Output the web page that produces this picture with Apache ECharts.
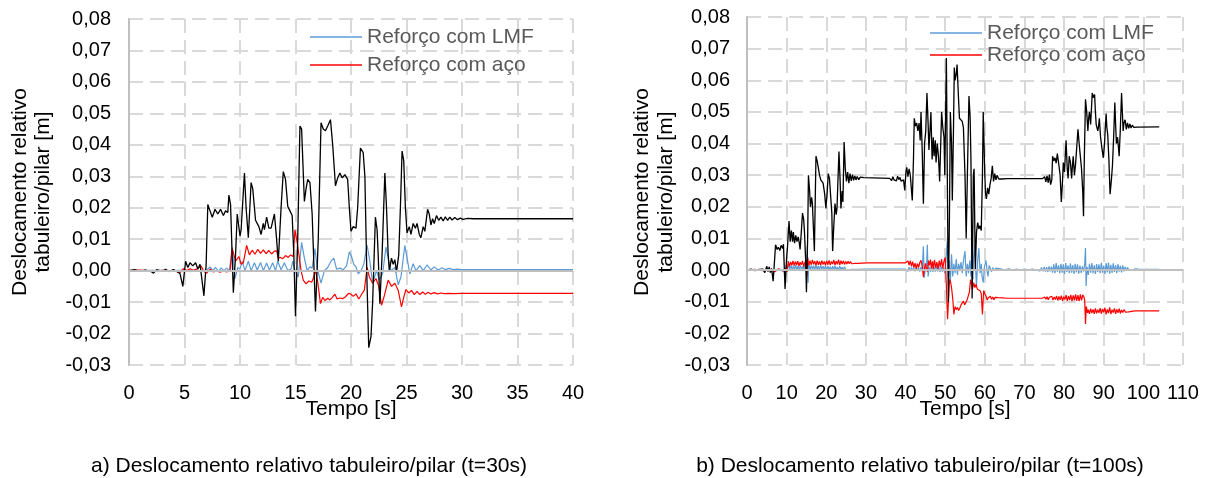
<!DOCTYPE html>
<html>
<head>
<meta charset="utf-8">
<script src="https://cdn.jsdelivr.net/npm/echarts@6/dist/echarts.min.js"></script>
<style>
  html, body { margin: 0; padding: 0; background: #ffffff; }
  #chart { width: 1210px; height: 478px; }
</style>
</head>
<body>
<div id="chart"></div>
<script>
// Relative deck/pier displacement [m] versus time [s]; pairs are [t, value].

// (a) t = 30 s record
const aSemReforco = [[0,0],[0.5,0.0003],[1,-0.0002],[1.5,0.0002],[2,-0.0003],[2.2,-0.0008],[2.5,0.0003],[3,-0.0002],[3.3,0.0004],[3.6,-0.0003],[4,0.0003],[4.3,-0.0002],[4.6,-0.001],[4.85,-0.005],[5.1,0.003],[5.3,0.001],[5.5,0.0025],[5.75,0.0015],[6.0,0.0025],[6.2,0.0005],[6.4,0.002],[6.55,0.0015],[6.75,-0.008],[6.95,0.002],[7.1,0.021],[7.3,0.019],[7.5,0.017],[7.75,0.0195],[8.0,0.018],[8.25,0.0195],[8.5,0.0175],[8.7,0.019],[8.9,0.0185],[9.0,0.024],[9.15,0.021],[9.4,-0.007],[9.6,0.005],[9.75,0.018],[10.0,0.011],[10.1,0.013],[10.4,0.031],[10.55,0.02],[10.75,0.0105],[11.0,0.028],[11.15,0.026],[11.4,0.016],[11.55,0.0165],[11.7,0.014],[11.9,0.0115],[12.1,0.015],[12.2,0.013],[12.4,0.017],[12.6,0.0135],[12.8,0.0135],[13.1,0.018],[13.25,0.012],[13.45,0.003],[13.7,0.02],[13.9,0.0315],[14.1,0.029],[14.3,0.0205],[14.5,0.019],[14.7,0.0175],[14.85,0.005],[15.0,-0.0145],[15.2,0.01],[15.4,0.046],[15.55,0.045],[15.8,0.022],[15.95,0.026],[16.1,0.029],[16.3,0.028],[16.5,0.018],[16.8,-0.013],[17.05,0.01],[17.3,0.047],[17.5,0.045],[17.7,0.0445],[17.9,0.046],[18.15,0.048],[18.35,0.04],[18.6,0.027],[18.8,0.0295],[19.0,0.031],[19.2,0.0295],[19.45,0.0305],[19.7,0.029],[19.85,0.02],[20.0,0.0125],[20.2,0.014],[20.45,0.0135],[20.6,0.02],[20.85,0.039],[21.1,0.0375],[21.25,0.03],[21.45,-0.005],[21.6,-0.0245],[21.8,-0.021],[21.95,-0.01],[22.2,0.017],[22.35,0.013],[22.45,0.005],[22.6,-0.0105],[22.8,0.005],[23.05,0.031],[23.2,0.02],[23.35,0.005],[23.45,0.0],[23.65,0.004],[23.8,0.002],[23.95,0.0035],[24.1,-0.0005],[24.3,0.005],[24.45,0.02],[24.6,0.038],[24.75,0.035],[24.9,0.02],[25.05,0.012],[25.25,0.014],[25.4,0.0115],[25.6,0.015],[25.8,0.0135],[25.95,0.015],[26.15,0.0115],[26.3,0.0105],[26.5,0.014],[26.65,0.0125],[26.9,0.0195],[27.05,0.018],[27.2,0.0145],[27.35,0.0165],[27.5,0.015],[27.7,0.0175],[27.9,0.016],[28.1,0.017],[28.3,0.0158],[28.5,0.0171],[28.7,0.016],[28.9,0.017],[29.1,0.0161],[29.35,0.0169],[29.6,0.0162],[29.85,0.0167],[30.1,0.0163],[30.5,0.0166],[31,0.0165],[40,0.0165]];

const aAco = [[0,0],[1,0.0002],[2,-0.0002],[3,0.0001],[4,-0.0001],[4.6,-0.0006],[4.9,0.0006],[5.2,0.0],[5.5,0.0006],[5.8,0.0001],[6.1,0.0005],[6.5,0.0015],[6.75,-0.0003],[7.0,-0.0008],[7.3,0.0005],[7.6,-0.0004],[7.9,-0.0001],[8.2,-0.0005],[8.5,0.0],[8.8,-0.0004],[9.1,0.0],[9.3,0.007],[9.6,0.003],[9.9,0.0045],[10.1,0.002],[10.3,0.0025],[10.6,0.008],[10.85,0.005],[11.1,0.0065],[11.35,0.0052],[11.6,0.0068],[11.85,0.0055],[12.1,0.0066],[12.35,0.0054],[12.6,0.0064],[12.85,0.0053],[13.1,0.0062],[13.3,0.0063],[13.45,0.004],[13.65,0.0042],[13.85,0.0038],[14.1,0.0048],[14.35,0.0042],[14.55,0.005],[14.8,0.0045],[14.95,0.013],[15.15,0.009],[15.35,0.004],[15.5,0.0],[15.7,-0.003],[15.95,-0.0042],[16.2,-0.0033],[16.45,-0.0037],[16.6,-0.0025],[16.8,0.0],[17.0,-0.0035],[17.25,-0.0105],[17.45,-0.0085],[17.65,-0.0095],[17.9,-0.0088],[18.1,-0.0093],[18.3,-0.0086],[18.55,-0.0075],[18.75,-0.009],[19.0,-0.0087],[19.25,-0.0089],[19.5,-0.0083],[19.8,-0.0072],[20.0,-0.0075],[20.2,-0.0082],[20.45,-0.0074],[20.7,-0.009],[20.95,-0.0076],[21.2,-0.0062],[21.45,0.001],[21.65,-0.002],[21.95,-0.004],[22.25,-0.0025],[22.5,-0.005],[22.75,-0.011],[23.0,-0.008],[23.35,-0.003],[23.65,-0.005],[23.95,-0.004],[24.25,-0.0062],[24.55,-0.0115],[24.75,-0.0085],[24.95,-0.006],[25.2,-0.0071],[25.45,-0.0063],[25.7,-0.0076],[25.95,-0.0066],[26.2,-0.0076],[26.45,-0.0068],[26.7,-0.0075],[26.95,-0.0069],[27.2,-0.0074],[27.5,-0.007],[27.8,-0.0074],[28.1,-0.0071],[28.4,-0.0073],[28.8,-0.0072],[29.3,-0.0073],[30,-0.0072],[40,-0.0072]];

const aLmf = [[0,0],[2,0.0001],[4,0],[5,0.0002],[5.5,-0.0003],[6,0.0004],[6.5,-0.0002],[7.0,0.0002],[7.3,0.0012],[7.55,0.0],[7.8,0.001],[8.05,-0.0002],[8.3,0.0009],[8.55,0.0],[8.8,0.0008],[9.05,0.0],[9.3,0.0075],[9.55,-0.0025],[9.8,0.001],[10.0,0.0005],[10.2,0.003],[10.45,0.0],[10.75,0.003],[11.0,0.0],[11.3,0.0025],[11.55,0.0002],[11.85,0.0026],[12.1,0.0],[12.4,0.0024],[12.65,0.0002],[12.95,0.0025],[13.2,0.0],[13.4,0.003],[13.7,0.0003],[14.0,0.0025],[14.3,0.0],[14.6,0.0005],[14.75,0.003],[14.95,0.0],[15.25,-0.002],[15.55,0.009],[15.8,0.004],[16.05,0.0],[16.3,0.0012],[16.5,0.0008],[16.75,0.007],[17.0,0.0],[17.3,-0.004],[17.6,0.0],[17.9,0.001],[18.2,0.003],[18.45,0.004],[18.7,0.0005],[19.0,0.0008],[19.3,0.0003],[19.6,0.0015],[19.85,0.006],[20.05,0.0045],[20.25,0.002],[20.45,0.0012],[20.65,-0.001],[20.9,0.0],[21.15,0.002],[21.45,0.008],[21.7,0.003],[21.95,-0.004],[22.3,0.0],[22.55,-0.003],[22.85,-0.001],[23.15,0.0075],[23.35,0.004],[23.6,0.0],[23.95,0.001],[24.25,-0.0045],[24.5,-0.002],[24.85,0.008],[25.05,0.004],[25.3,-0.001],[25.6,0.0022],[25.85,0.0],[26.2,0.0016],[26.5,0.0],[26.85,0.0018],[27.2,0.0002],[27.5,0.0012],[27.85,0.0002],[28.2,0.0009],[28.5,0.0003],[28.85,0.0007],[29.2,0.0003],[29.6,0.0005],[30,0.0003],[40,0.0003]];

// (b) t = 100 s record
const bSemReforco = [[0,0],[1,0.0003],[2,-0.0002],[3,0.0002],[3.5,-0.0004],[4,0.0003],[4.5,-0.0008],[5,0.0012],[5.3,-0.0005],[5.6,0.001],[5.9,-0.0008],[6.2,0.0005],[6.6,-0.0035],[7.0,0.004],[7.2,0.008],[7.6,0.0065],[7.9,0.0072],[8.3,0.0062],[8.6,0.0078],[9.0,0.0068],[9.2,0.0082],[9.6,-0.006],[10.0,0.004],[10.2,0.007],[10.6,0.0155],[10.9,0.009],[11.2,0.0125],[11.5,0.009],[11.7,0.012],[12.0,0.0085],[12.3,0.011],[12.6,0.009],[12.9,0.0105],[13.2,0.0085],[13.4,0.0065],[13.7,0.012],[14.0,0.018],[14.3,0.016],[14.5,0.012],[14.8,0.003],[15.0,-0.007],[15.3,0.01],[15.5,0.03],[15.8,0.025],[16.0,0.02],[16.3,0.023],[16.5,0.021],[16.8,0.012],[17.0,0.006],[17.4,0.036],[17.7,0.0345],[18.0,0.035],[18.3,0.03],[18.6,0.0285],[18.9,0.029],[19.2,0.0275],[19.6,0.024],[19.9,0.0195],[20.2,0.024],[20.5,0.0305],[20.8,0.029],[21.1,0.0285],[21.4,0.018],[21.6,0.006],[21.9,0.014],[22.2,0.021],[22.5,0.0175],[22.7,0.0195],[23.2,0.0375],[23.5,0.028],[23.7,0.0195],[24.0,0.025],[24.2,0.0215],[24.5,0.0405],[24.8,0.032],[25.1,0.028],[25.4,0.031],[25.7,0.0275],[26.0,0.0305],[26.3,0.0282],[26.6,0.0302],[26.9,0.0284],[27.2,0.0298],[27.5,0.0285],[27.8,0.0296],[28.2,0.0286],[28.6,0.0294],[29.0,0.0288],[29.5,0.0292],[30,0.029],[36,0.029],[36.5,0.0283],[36.8,0.0295],[37.1,0.0285],[37.4,0.029],[37.7,0.0282],[38.0,0.0297],[38.3,0.0286],[38.6,0.0293],[38.9,0.0281],[39.2,0.0275],[39.5,0.0285],[39.8,0.0252],[40.1,0.031],[40.3,0.0325],[40.6,0.0295],[40.9,0.032],[41.2,0.03],[41.4,0.0305],[41.7,0.022],[42.0,0.035],[42.2,0.048],[42.5,0.0455],[42.8,0.0465],[43.1,0.044],[43.4,0.0465],[43.7,0.041],[43.9,0.05],[44.2,0.038],[44.5,0.021],[44.8,0.04],[45.1,0.044],[45.4,0.056],[45.7,0.046],[45.9,0.038],[46.2,0.045],[46.4,0.05],[46.7,0.035],[47.0,0.042],[47.2,0.036],[47.5,0.041],[47.7,0.034],[48.0,0.04],[48.3,0.036],[48.6,0.028],[48.9,0.041],[49.1,0.05],[49.4,0.045],[49.7,0.042],[49.9,0.03],[50.3,0.067],[50.6,0.02],[50.8,-0.01],[51.1,0.02],[51.3,0.05],[51.6,0.04],[51.8,0.022],[52.1,0.045],[52.3,0.064],[52.5,0.06],[52.8,0.062],[53.0,0.065],[53.3,0.056],[53.6,0.048],[53.9,0.048],[54.3,0.047],[54.6,0.045],[55.0,0.03],[55.3,0.01],[55.6,0.03],[56.0,0.055],[56.3,0.048],[56.5,0.035],[56.8,-0.009],[57.1,0.03],[57.3,0.032],[57.6,0.0],[57.9,0.012],[58.2,0.015],[58.5,0.013],[58.8,0.014],[59.1,0.0125],[59.4,0.03],[59.6,0.05],[59.8,0.04],[60.0,0.03],[60.2,0.024],[60.4,0.0225],[60.7,0.026],[61.0,0.024],[61.3,0.027],[61.6,0.029],[61.9,0.033],[62.2,0.028],[62.5,0.0305],[62.8,0.0285],[63.1,0.03],[63.5,0.0288],[63.9,0.0294],[64.3,0.0288],[64.8,0.0291],[65.5,0.0289],[74.5,0.0289],[74.8,0.0283],[75.1,0.0295],[75.4,0.0279],[75.7,0.0298],[76.0,0.0276],[76.3,0.0302],[76.6,0.027],[76.9,0.0285],[77.1,0.036],[77.4,0.0345],[77.7,0.0355],[78.0,0.0338],[78.3,0.0368],[78.6,0.034],[78.8,0.0335],[79.0,0.03],[79.3,0.0215],[79.6,0.028],[79.8,0.034],[80.1,0.031],[80.5,0.041],[80.8,0.032],[81.0,0.029],[81.3,0.036],[81.6,0.034],[81.9,0.029],[82.1,0.033],[82.3,0.036],[82.6,0.03],[82.9,0.0335],[83.2,0.033],[83.5,0.0445],[83.8,0.04],[84.1,0.036],[84.4,0.032],[84.7,0.025],[84.9,0.017],[85.1,0.035],[85.4,0.054],[85.7,0.05],[86.0,0.044],[86.2,0.048],[86.4,0.05],[86.7,0.046],[87.1,0.056],[87.4,0.0545],[87.7,0.0555],[87.9,0.05],[88.1,0.046],[88.3,0.0455],[88.5,0.044],[88.7,0.0455],[88.9,0.048],[89.2,0.042],[89.6,0.038],[89.9,0.0355],[90.2,0.04],[90.6,0.0495],[90.8,0.045],[91.0,0.043],[91.3,0.035],[91.6,0.024],[91.9,0.028],[92.2,0.033],[92.5,0.042],[92.8,0.053],[93.0,0.046],[93.2,0.04],[93.5,0.042],[93.9,0.036],[94.2,0.045],[94.5,0.056],[94.7,0.05],[94.9,0.044],[95.1,0.0465],[95.4,0.0475],[95.7,0.0445],[96.0,0.0465],[96.3,0.0448],[96.6,0.0462],[96.9,0.0449],[97.2,0.0458],[97.6,0.0451],[98.0,0.0455],[98.5,0.0452],[99,0.0454],[104,0.0453]];

const bAco = [[0,0],[2,0.0002],[4,-0.0002],[6,0.0001],[7,-0.0005],[8,0.0004],[9,-0.0003],[9.8,0.0005],[10.1,-0.0006],[10.4,0.0028],[10.7,0.0012],[11.0,0.0026],[11.3,0.0015],[11.6,0.0029],[11.9,0.0014],[12.2,0.0027],[12.5,0.0016],[12.8,0.0028],[13.1,0.0013],[13.4,0.0025],[13.7,0.0017],[14.0,0.0029],[14.3,0.0011],[14.6,0.0024],[14.9,0.0031],[15.1,-0.002],[15.3,0.004],[15.6,0.0015],[15.9,0.003],[16.2,0.0017],[16.5,0.0032],[16.8,0.0018],[17.1,0.0028],[17.4,0.0015],[17.7,0.003],[18.0,0.0017],[18.3,0.0027],[18.6,0.0016],[18.9,0.003],[19.2,0.0018],[19.5,0.0027],[19.8,0.0015],[20.1,0.0029],[20.4,0.0017],[20.7,0.0031],[21.0,0.0016],[21.3,0.0027],[21.6,0.0019],[21.9,0.0032],[22.2,0.0016],[22.5,0.0028],[22.8,0.0018],[23.1,0.0033],[23.4,0.0016],[23.7,0.003],[24.0,0.0019],[24.3,0.0029],[24.6,0.0018],[24.9,0.0027],[25.2,0.0019],[25.5,0.0028],[25.8,0.002],[26.1,0.0027],[26.4,0.002],[26.8,0.0026],[27.2,0.0021],[27.6,0.0025],[28.0,0.0021],[28.5,0.0024],[29.0,0.0022],[29.5,0.0024],[30.5,0.0023],[40,0.0023],[40.3,0.0017],[40.6,0.0029],[40.9,0.0016],[41.2,0.003],[41.5,0.0012],[41.8,0.0027],[42.1,0.0008],[42.4,0.0022],[42.7,0.0005],[43.0,0.002],[43.3,0.0009],[43.6,0.0024],[43.9,0.0031],[44.2,0.0012],[44.5,-0.0022],[44.7,0.0],[45.0,0.0021],[45.3,0.0002],[45.5,-0.0005],[45.8,0.003],[46.0,0.0015],[46.3,0.0033],[46.5,0.0006],[46.8,0.0028],[47.0,0.0004],[47.3,0.0032],[47.6,0.0008],[47.9,0.0025],[48.2,0.0003],[48.5,0.003],[48.8,0.001],[49.1,0.0035],[49.4,0.0005],[49.7,0.0028],[50.0,0.004],[50.3,-0.005],[50.6,-0.0155],[50.9,-0.008],[51.1,-0.003],[51.4,-0.004],[51.6,-0.0055],[51.9,-0.009],[52.2,-0.014],[52.5,-0.0115],[52.8,-0.0125],[53.1,-0.0118],[53.4,-0.0128],[53.7,-0.012],[54.0,-0.011],[54.3,-0.0105],[54.6,-0.0098],[54.9,-0.011],[55.2,-0.0108],[55.5,-0.0095],[55.8,-0.009],[56.1,-0.007],[56.4,-0.003],[56.7,-0.0045],[56.9,-0.006],[57.2,-0.004],[57.5,-0.0055],[57.8,-0.0045],[58.1,-0.006],[58.4,-0.0058],[58.8,-0.0065],[59.1,-0.0075],[59.4,-0.014],[59.7,-0.0065],[60.0,-0.0075],[60.3,-0.0082],[60.6,-0.0095],[60.8,-0.0088],[61.1,-0.0093],[61.4,-0.0083],[61.7,-0.0092],[62.0,-0.0085],[62.3,-0.0094],[62.6,-0.0086],[63.0,-0.0091],[63.4,-0.0087],[63.9,-0.009],[64.5,-0.0088],[65.5,-0.0089],[74.5,-0.0089],[74.8,-0.0093],[75.1,-0.0085],[75.4,-0.0092],[75.7,-0.0084],[76.0,-0.0094],[76.3,-0.0086],[76.6,-0.0092],[76.9,-0.0083],[77.2,-0.0095],[77.5,-0.0085],[77.8,-0.0093],[78.1,-0.0082],[78.4,-0.0096],[78.7,-0.0083],[79.0,-0.0094],[79.3,-0.0081],[79.6,-0.0097],[79.9,-0.0084],[80.2,-0.0093],[80.5,-0.0079],[80.8,-0.0097],[81.1,-0.0082],[81.4,-0.0095],[81.7,-0.0078],[82.0,-0.0098],[82.3,-0.008],[82.6,-0.0096],[82.9,-0.0077],[83.2,-0.0097],[83.5,-0.0079],[83.8,-0.0098],[84.1,-0.0077],[84.4,-0.0096],[84.7,-0.0078],[85.0,-0.0085],[85.2,-0.0095],[85.4,-0.017],[85.6,-0.0115],[85.9,-0.0135],[86.1,-0.0125],[86.4,-0.0138],[86.7,-0.0122],[87.0,-0.0136],[87.3,-0.0124],[87.6,-0.0138],[87.9,-0.0121],[88.2,-0.0137],[88.5,-0.0125],[88.8,-0.0135],[89.1,-0.012],[89.4,-0.0138],[89.7,-0.0123],[90.0,-0.0133],[90.3,-0.0119],[90.6,-0.014],[90.9,-0.0124],[91.2,-0.0136],[91.5,-0.0118],[91.8,-0.0139],[92.1,-0.0125],[92.4,-0.0134],[92.7,-0.0121],[93.0,-0.0138],[93.3,-0.0124],[93.6,-0.0135],[93.9,-0.0122],[94.2,-0.0137],[94.5,-0.0126],[94.8,-0.0134],[95.1,-0.0125],[95.5,-0.0133],[95.9,-0.0127],[96.3,-0.0132],[96.8,-0.0128],[97.4,-0.013],[98,-0.0129],[104,-0.0129]];

const bLmf = [[0,0],[3,0.0001],[6,-0.0001],[8,0.0002],[9,0.0],[9.6,-0.001],[9.9,0.0015],[10.2,0.0],[10.5,0.002],[10.8,0.0003],[11.1,0.0015],[11.4,0.0],[11.7,0.0012],[12.0,0.0003],[12.3,0.0016],[12.6,0.0],[12.9,0.0013],[13.2,0.0002],[13.5,0.0015],[13.8,0.0],[14.1,0.0012],[14.4,0.0002],[14.7,0.0018],[15.0,0.0],[15.2,0.0075],[15.4,-0.004],[15.6,0.002],[15.9,0.0],[16.2,0.0015],[16.5,0.0002],[16.8,0.0014],[17.1,0.0],[17.4,0.0016],[17.7,0.0002],[18.0,0.0013],[18.3,0.0],[18.6,0.0015],[18.9,0.0003],[19.2,0.0012],[19.5,0.0001],[19.8,0.0014],[20.1,0.0],[20.4,0.0013],[20.7,0.0002],[21.0,0.0011],[21.3,0.0],[21.6,0.0012],[21.9,0.0002],[22.2,0.0013],[22.5,0.0001],[22.8,0.001],[23.1,0.0],[23.4,0.0012],[23.7,0.0002],[24.0,0.0009],[24.3,0.0],[24.6,0.0011],[24.9,0.0002],[25.2,0.0008],[25.6,0.0001],[26.0,0.0006],[26.5,0.0002],[27.0,0.0005],[28,0.0002],[30,0.0003],[40,0.0003],[40.3,0.0008],[40.6,-0.0004],[40.9,0.0009],[41.2,-0.0003],[41.5,0.0008],[41.8,-0.0002],[42.1,0.0007],[42.4,-0.0004],[42.7,0.001],[43.0,-0.0002],[43.3,0.0008],[43.6,-0.0005],[43.9,0.0009],[44.2,-0.0003],[44.5,0.0075],[44.7,-0.0025],[45.0,0.0005],[45.3,0.0015],[45.5,0.008],[45.7,-0.002],[46.0,0.001],[46.3,-0.0005],[46.6,0.0012],[46.9,-0.0006],[47.2,0.0011],[47.5,-0.0005],[47.8,0.0012],[48.1,-0.0004],[48.4,0.001],[48.7,-0.0006],[49.0,0.0011],[49.3,-0.0005],[49.6,0.0008],[49.9,-0.001],[50.2,0.003],[50.5,0.0093],[50.8,-0.002],[51.0,0.003],[51.3,-0.0038],[51.6,0.005],[51.9,-0.002],[52.2,0.002],[52.5,-0.001],[52.8,0.0035],[53.1,-0.0015],[53.4,0.002],[53.7,0.0],[54.0,0.0025],[54.3,-0.001],[54.6,0.003],[55.0,0.006],[55.3,-0.002],[55.6,0.002],[55.9,-0.001],[56.2,0.003],[56.5,-0.002],[56.7,0.008],[57.0,-0.003],[57.2,0.004],[57.5,0.008],[57.7,0.0],[57.9,-0.005],[58.2,0.003],[58.5,0.007],[58.8,-0.001],[59.1,0.002],[59.3,-0.002],[59.6,-0.004],[59.9,0.001],[60.3,0.003],[60.6,-0.0005],[60.8,-0.002],[61.1,0.0015],[61.4,0.001],[61.7,-0.0005],[62.0,0.0008],[62.4,-0.0002],[62.8,0.0006],[63.3,0.0],[64,0.0004],[65,0.0001],[66,0.0004],[67,0.0],[68,0.0003],[69,0.0],[70,0.0003],[71,0.0001],[72,0.0003],[73,0.0],[73.5,0.0005],[73.9,-0.0003],[74.3,0.0008],[74.7,-0.0004],[75.0,0.001],[75.3,-0.0005],[75.6,0.0009],[75.9,-0.0006],[76.2,0.0012],[76.5,-0.0004],[76.8,0.0011],[77.1,-0.0008],[77.4,0.0018],[77.7,-0.001],[78.0,0.0022],[78.3,-0.0005],[78.6,0.0015],[78.9,-0.001],[79.2,0.002],[79.5,-0.0008],[79.8,0.0018],[80.1,-0.0012],[80.4,0.0022],[80.7,-0.0006],[81.0,0.0015],[81.3,-0.001],[81.6,0.0021],[81.9,-0.0008],[82.2,0.0016],[82.5,-0.0012],[82.8,0.002],[83.1,-0.0007],[83.4,0.0018],[83.7,-0.0011],[84.0,0.0014],[84.3,-0.0009],[84.6,0.0012],[84.9,-0.0005],[85.2,0.002],[85.4,0.007],[85.55,-0.005],[85.8,0.001],[86.1,-0.0015],[86.4,0.002],[86.7,-0.0008],[87.0,0.0022],[87.3,-0.001],[87.6,0.0015],[87.9,-0.0012],[88.2,0.0019],[88.5,-0.0006],[88.8,0.0018],[89.1,-0.001],[89.4,0.0023],[89.7,-0.0008],[90.0,0.0014],[90.3,-0.0012],[90.6,0.0022],[90.9,-0.0007],[91.2,0.0024],[91.5,-0.0011],[91.8,0.0017],[92.1,-0.0009],[92.4,0.0021],[92.7,-0.0006],[93.0,0.0016],[93.3,-0.001],[93.6,0.0019],[93.9,-0.0005],[94.2,0.0013],[94.5,-0.0007],[94.8,0.0015],[95.1,-0.0004],[95.4,0.001],[95.7,-0.0002],[96.0,0.0008],[96.4,0.0],[96.8,0.0006],[97.3,0.0001],[98,0.0004],[99,0.0002],[104,0.0002]];

// Axis ranges and text
const yRange = { min: -0.03, max: 0.08, interval: 0.01 };
const xRangeA = { min: 0, max: 40, interval: 5 };
const xRangeB = { min: 0, max: 110, interval: 10 };
const nameLmf = 'Reforço com LMF';
const nameAco = 'Reforço com aço';
const nameSem = 'Sem reforço';
const xTitle = 'Tempo [s]';
const yTitle1 = 'Deslocamento relativo';
const yTitle2 = 'tabuleiro/pilar [m]';
const captionA = 'a) Deslocamento relativo tabuleiro/pilar (t=30s)';
const captionB = 'b) Deslocamento relativo tabuleiro/pilar (t=100s)';

const FONT = '"Liberation Sans", Arial, sans-serif';
const GRID_LINE = { show: true, lineStyle: { color: '#d9d9d9', width: 2, type: [14, 7] } };
const fmtY = v => {
  const s = (Math.round(v * 100) / 100).toFixed(2).replace('.', ',');
  return s === '-0,00' ? '0,00' : s;
};

function xAxisFor(gridIndex, range) {
  return {
    gridIndex, type: 'value', min: range.min, max: range.max, interval: range.interval,
    axisLine: { show: false, onZero: false },
    axisTick: { show: false },
    splitLine: GRID_LINE,
    axisLabel: { color: '#000', fontSize: 20, fontFamily: FONT, margin: 18, lineHeight: 20 }
  };
}
function yAxisFor(gridIndex, margin) {
  return {
    gridIndex, type: 'value', min: yRange.min, max: yRange.max, interval: yRange.interval,
    axisLine: { show: true, onZero: false, lineStyle: { color: '#bfbfbf', width: 2 } },
    axisTick: { show: false },
    splitLine: GRID_LINE,
    axisLabel: { color: '#000', fontSize: 20, fontFamily: FONT, margin, formatter: fmtY }
  };
}
function lineSeries(name, data, color, width, idx, extra) {
  return Object.assign({
    type: 'line', name, data, xAxisIndex: idx, yAxisIndex: idx,
    symbol: 'none', showSymbol: false, smooth: false, animation: false, silent: true,
    lineStyle: { color, width }, itemStyle: { color }
  }, extra || {});
}
const zeroLine = {
  silent: true, symbol: ['none', 'none'], label: { show: false },
  lineStyle: { color: '#bfbfbf', width: 2, type: 'solid' },
  data: [{ yAxis: 0 }]
};
function legendAt(left, top, gap) {
  return {
    data: [nameLmf, nameAco], orient: 'vertical', left, top, padding: 0,
    icon: 'rect', itemWidth: 52, itemHeight: 1.5, itemGap: gap, selectedMode: false,
    textStyle: { color: '#595959', fontSize: 21, fontFamily: FONT, lineHeight: 22 }
  };
}
function yTitle(x, y, text) {
  return {
    type: 'text', x, y, rotation: Math.PI / 2, silent: true,
    style: { text, fill: '#000', font: '21px ' + FONT, textAlign: 'center', textVerticalAlign: 'middle' }
  };
}
function plainText(x, y, text) {
  return {
    type: 'text', x, y, silent: true,
    style: { text, fill: '#000', font: '21px ' + FONT, textAlign: 'center', textVerticalAlign: 'middle' }
  };
}

const chart = echarts.init(document.getElementById('chart'), null, { renderer: 'canvas' });
chart.setOption({
  animation: false,
  backgroundColor: '#ffffff',
  textStyle: { fontFamily: FONT },
  grid: [
    { left: 129, top: 19, width: 444, height: 346 },
    { left: 747, top: 17, width: 436, height: 348 }
  ],
  xAxis: [xAxisFor(0, xRangeA), xAxisFor(1, xRangeB)],
  yAxis: [yAxisFor(0, 18), yAxisFor(1, 17)],
  legend: [legendAt(310, 26, 6), legendAt(930, 22, 0)],
  series: [
    lineSeries(nameLmf, aLmf, '#5b9bd5', 1.2, 0, { markLine: zeroLine, z: 2 }),
    lineSeries(nameAco, aAco, '#ff0000', 1.2, 0, { z: 3 }),
    lineSeries(nameSem, aSemReforco, '#000000', 1.3, 0, { z: 4 }),
    lineSeries(nameLmf, bLmf, '#5b9bd5', 1.2, 1, { markLine: zeroLine, z: 2 }),
    lineSeries(nameAco, bAco, '#ff0000', 1.2, 1, { z: 3 }),
    lineSeries(nameSem, bSemReforco, '#000000', 1.3, 1, { z: 4 })
  ],
  graphic: [
    yTitle(20, 192, yTitle1), yTitle(43, 192, yTitle2),
    yTitle(642, 192, yTitle1), yTitle(666, 192, yTitle2),
    plainText(351, 409, xTitle), plainText(965, 409, xTitle),
    plainText(309, 466, captionA), plainText(920, 466, captionB)
  ]
});
</script>
</body>
</html>
